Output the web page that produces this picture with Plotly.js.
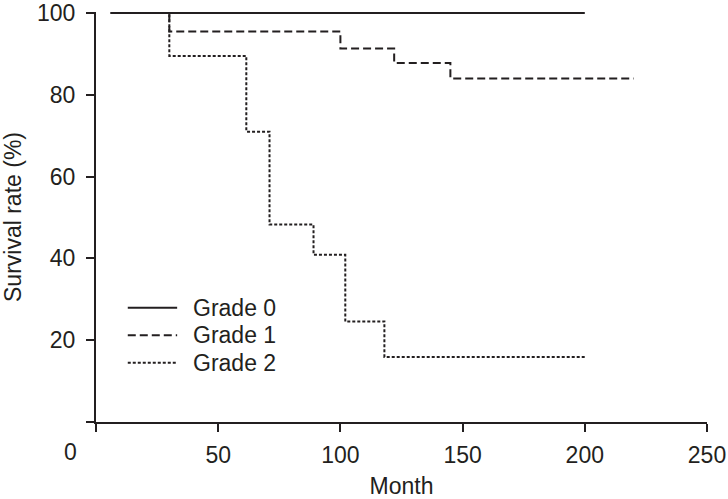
<!DOCTYPE html>
<html>
<head>
<meta charset="utf-8">
<script src="https://cdn.plot.ly/plotly-3.0.1.min.js"></script>
<style>html,body{margin:0;padding:0;background:#fff}#chart{width:728px;height:499px}</style>
</head>
<body>
<div id="chart"></div>
<script>
const grade0Month = [6, 200];
const grade0Surv = [100, 100];
const grade1Month = [6, 30, 100, 122, 145, 220];
const grade1Surv = [100, 95.5, 91.3, 87.8, 84.0, 84.0];
const grade2Month = [6, 30, 61.5, 71, 89, 102, 118, 200];
const grade2Surv = [100, 89.5, 71.0, 48.3, 40.9, 24.6, 15.9, 15.9];
const seriesNames = ['Grade 0', 'Grade 1', 'Grade 2'];
const seriesDash = ['solid', '8px,4px', '3px,2px'];
const xTicks = [0, 50, 100, 150, 200, 250];
const xTickText = ['', '50', '100', '150', '200', '250'];
const yTicks = [0, 20, 40, 60, 80, 100];
const yTickText = ['', '20', '40', '60', '80', '100'];

const ink = '#231f20';
const font = {family: 'Liberation Sans, Arial, sans-serif', size: 23, color: ink};

const traces = [
  {x: grade0Month, y: grade0Surv, name: seriesNames[0], mode: 'lines',
   line: {shape: 'hv', color: ink, width: 2, dash: seriesDash[0]}},
  {x: grade1Month, y: grade1Surv, name: seriesNames[1], mode: 'lines',
   line: {shape: 'hv', color: ink, width: 2, dash: seriesDash[1]}},
  {x: grade2Month, y: grade2Surv, name: seriesNames[2], mode: 'lines',
   line: {shape: 'hv', color: ink, width: 2, dash: seriesDash[2]}}
];

// manual legend (long line samples like the reference)
const legY = [0.2785, 0.2118, 0.1443];
const shapes = [];
const annotations = [];
seriesNames.forEach((nm, i) => {
  shapes.push({type: 'line', xref: 'paper', yref: 'paper', x0: 0.052, x1: 0.1328,
               y0: legY[i], y1: legY[i], line: {color: ink, width: 2, dash: seriesDash[i]}});
  annotations.push({text: nm, xref: 'paper', yref: 'paper', x: 0.1573, y: legY[i],
                    xanchor: 'left', yanchor: 'middle', showarrow: false, font: font,
                    borderpad: 0});
});
annotations.push({text: '0', xref: 'paper', yref: 'paper', x: -0.0417, y: 0,
                  xanchor: 'center', yanchor: 'top', yshift: -15, showarrow: false, font: font});

const layout = {
  width: 728, height: 499,
  margin: {l: 95.5, r: 21, t: 12, b: 77},
  paper_bgcolor: '#fff', plot_bgcolor: '#fff',
  font: font,
  showlegend: false,
  xaxis: {range: [0, 250], tickvals: xTicks, ticktext: xTickText, showline: true,
          linecolor: ink, linewidth: 2, ticks: 'outside', ticklen: 8, tickwidth: 2,
          tickcolor: ink, showgrid: false, zeroline: false, tickfont: font,
          ticklabelstandoff: 3, ticklabeloverflow: 'allow',
          title: {text: 'Month', font: font, standoff: 14}},
  yaxis: {range: [0, 100.25], tickvals: yTicks, ticktext: yTickText, showline: true,
          linecolor: ink, linewidth: 2, ticks: 'outside', ticklen: 8, tickwidth: 2,
          tickcolor: ink, showgrid: false, zeroline: false, tickfont: font,
          ticklabelstandoff: 6, ticklabeloverflow: 'allow',
          title: {text: 'Survival rate (%)', font: font, standoff: 24}},
  shapes: shapes,
  annotations: annotations
};

Plotly.newPlot('chart', traces, layout, {displayModeBar: false, staticPlot: true});
</script>
</body>
</html>
